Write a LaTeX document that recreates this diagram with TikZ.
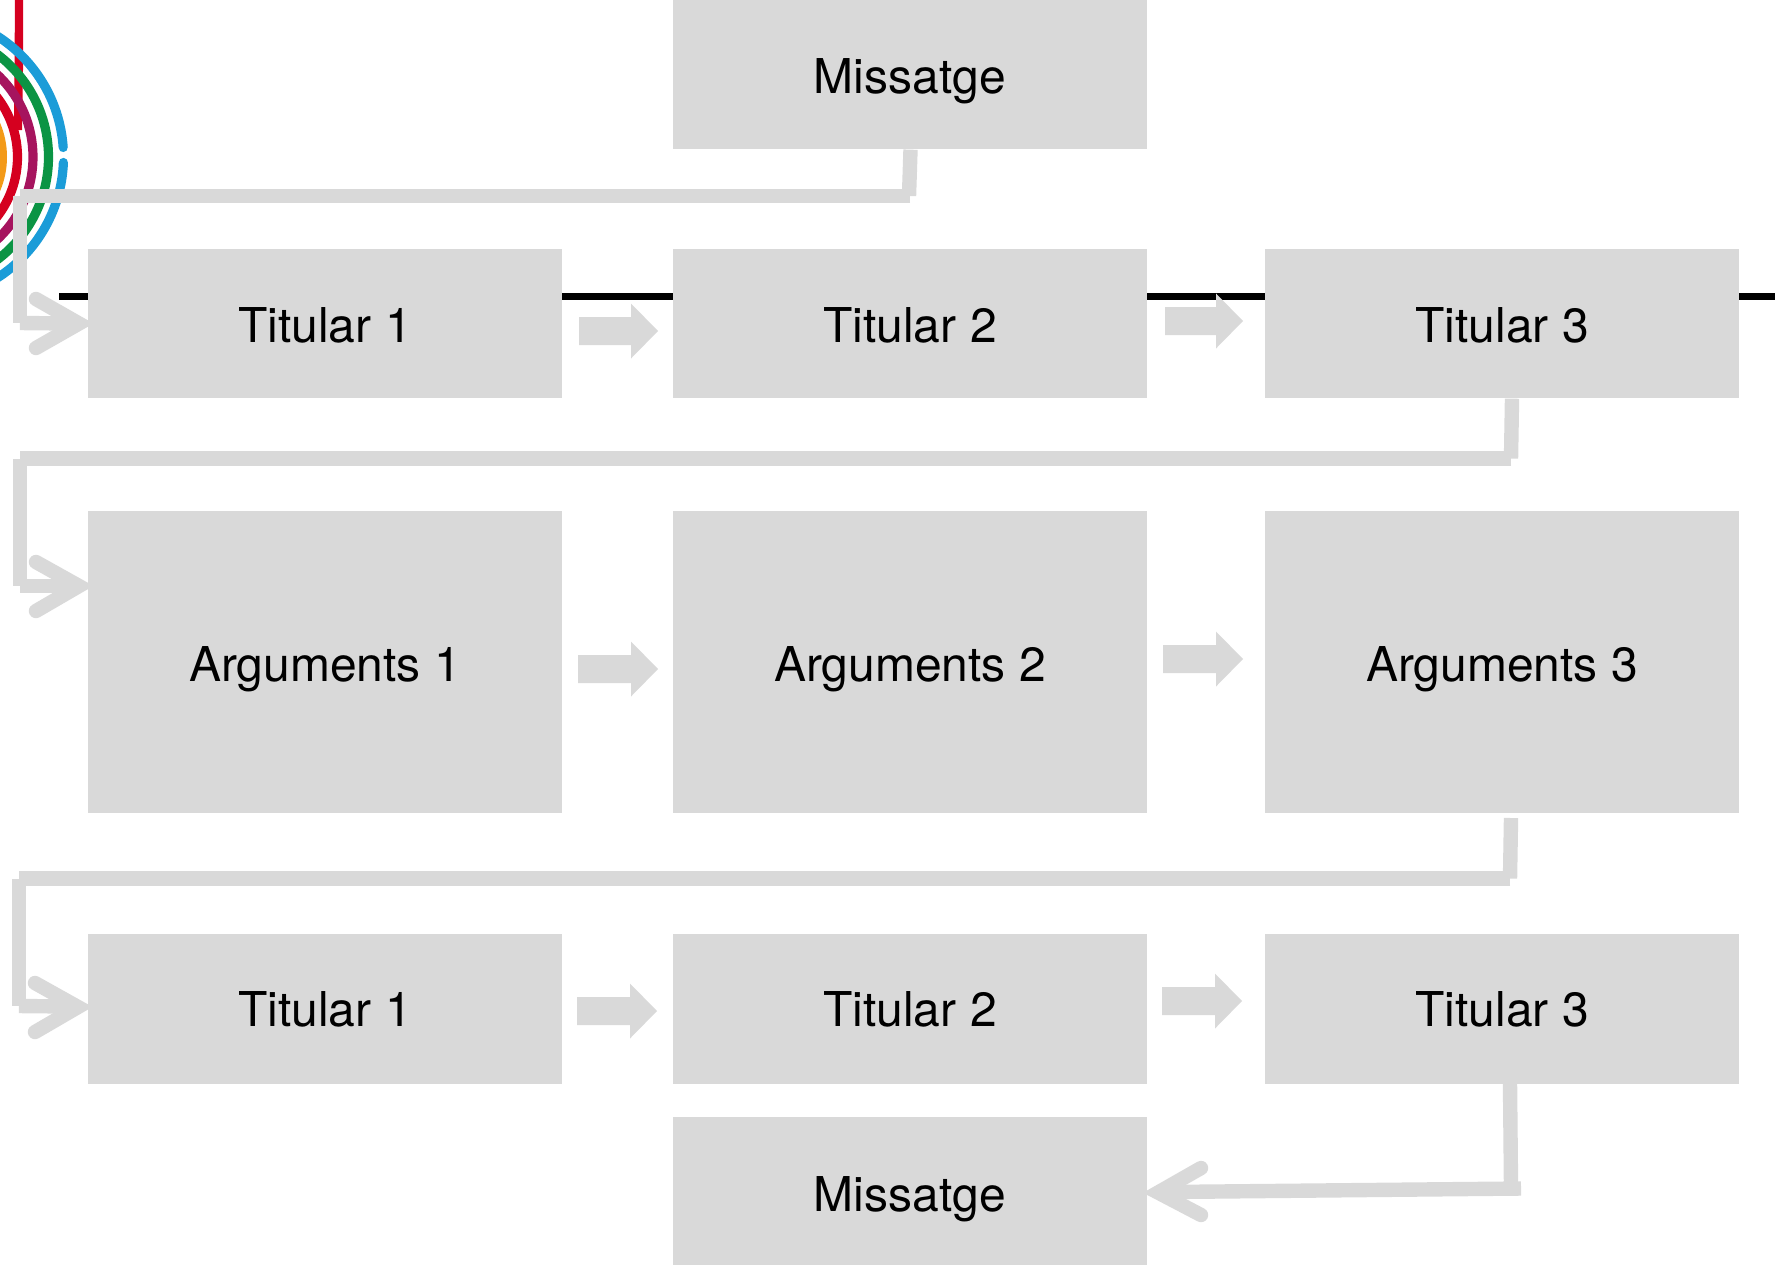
\documentclass[tikz,border=0pt]{standalone}
\usepackage{fontspec}
\setmainfont{TeX Gyre Heros}
\definecolor{boxgrey}{HTML}{D9D9D9}
\definecolor{ringblue}{HTML}{1B9CD8}
\definecolor{ringgreen}{HTML}{0B9444}
\definecolor{ringpurple}{HTML}{A6145E}
\definecolor{ringred}{HTML}{D5001F}
\definecolor{ringorange}{HTML}{F39A18}
\newcommand{\blockarrow}[3]{% left x, centre y, length
  \fill[boxgrey] (#1,#2-14) -- ++(#3-27,0) -- ++(0,-13.5) -- (#1+#3,#2) -- (#1+#3-27,#2+27.5) -- ++(0,-13.5) -- (#1,#2+14) -- cycle;}
\tikzset{
  box/.style={fill=boxgrey,inner sep=0pt,minimum width=237pt,text height=19pt,text depth=0pt,font=\fontsize{24}{28}\selectfont},
  tall/.style={box,minimum height=74.75pt},
  lowtext/.style={tall,text height=17.2pt},
  taller/.style={box,minimum height=151pt},
  wire/.style={draw=boxgrey,line width=7.2pt},
  barb/.style={draw=boxgrey,line width=7.2pt,line cap=round,line join=miter},
  blackline/.style={draw=black,line width=3.2pt},
  ring/.style={line width=4.6pt,line cap=round}
}
\begin{document}
\begin{tikzpicture}[x=0.5pt,y=-0.5pt]
\useasboundingbox (0,0) rectangle (1775,1264);
% rings
\begin{scope}
\clip (0,0) rectangle (1775,1264);
\fill[ringred] (15,0) -- (23,0) -- (23,70) -- (22,130) -- (14,130) -- cycle;
\fill[ringorange] (-80,157) circle [radius=87];
\draw[ringred,ring] (-80,157) circle [radius=97.5];
\draw[ringpurple,ring] (-80,157) circle [radius=113];
\draw[ringgreen,ring] (-80,157) circle [radius=128.5];
\draw[ringblue,ring] (-80,157) ++(-60:143.5) arc (-60:-3.8:143.5);
\draw[ringblue,ring] (-80,157) ++(2.2:143.5) arc (2.2:60:143.5);
\end{scope}
% timeline
\coordinate (lineL) at (59,296.5);
\coordinate (lineR) at (1775,296.5);
\draw[blackline] (lineL) -- (lineR);
% boxes
\node[tall] (m1) at (910,74.5) {Missatge};
\node[tall] (t1) at (325,323.5) {Titular 1};
\node[tall] (t2) at (910,323.5) {Titular 2};
\node[tall] (t3) at (1502,323.5) {Titular 3};
\node[taller] (a1) at (325,662) {Arguments 1};
\node[taller] (a2) at (910,662) {Arguments 2};
\node[taller] (a3) at (1502,662) {Arguments 3};
\node[lowtext] (u1) at (325,1009) {Titular 1};
\node[lowtext] (u2) at (910,1009) {Titular 2};
\node[lowtext] (u3) at (1502,1009) {Titular 3};
\node[tall] (m2) at (910,1192) {Missatge};
% block arrows
\blockarrow{579}{331}{79}
\blockarrow{1165}{321}{78}
\blockarrow{578}{669}{80}
\blockarrow{1163}{659}{80}
\blockarrow{577}{1011}{80}
\blockarrow{1162}{1001}{80}
% connector 1
\coordinate (c1a) at (909,196);
\coordinate (c1b) at (20,196);
\coordinate (c1c) at (20,323);
\draw[wire] (m1.south -| 910.5,0) -- (c1a);
\draw[wire] (c1a -| 910,0) -- (c1b);
\draw[wire] (c1b) -- (c1c);
\draw[wire] (c1c -| 20,0) -- (70,323.5);
\draw[barb] (36,299) -- (79,323.5) -- (36,348);
% connector 2
\coordinate (c2a) at (1511,458.5);
\coordinate (c2b) at (20,458.5);
\coordinate (c2c) at (20,586);
\draw[wire] (t3.south -| 1512,0) -- (c2a);
\draw[wire] (c2a) -- (c2b);
\draw[wire] (c2b) -- (c2c);
\draw[wire] (c2c) -- (70,586);
\draw[barb] (36,562) -- (79,586) -- (36,611);
% connector 3
\coordinate (c3s) at (1511,818);
\coordinate (c3a) at (1510,878.5);
\coordinate (c3b) at (19,878.5);
\coordinate (c3c) at (19,1006);
\draw[wire] (c3s) -- (c3a);
\draw[wire] (c3a) -- (c3b);
\draw[wire] (c3b) -- (c3c);
\draw[wire] (c3c) -- (70,1006.5);
\draw[barb] (35,983) -- (78,1007) -- (35,1032);
% connector 4
\coordinate (c4a) at (1511,1187);
\coordinate (c4b) at (1521,1188.5);
\draw[wire] (u3.south -| 1510,0) -- (c4a);
\draw[wire] (c4b) -- (1167,1192);
\draw[barb] (1201,1168) -- (1158,1192.5) -- (1201,1215);
\end{tikzpicture}
\end{document}
